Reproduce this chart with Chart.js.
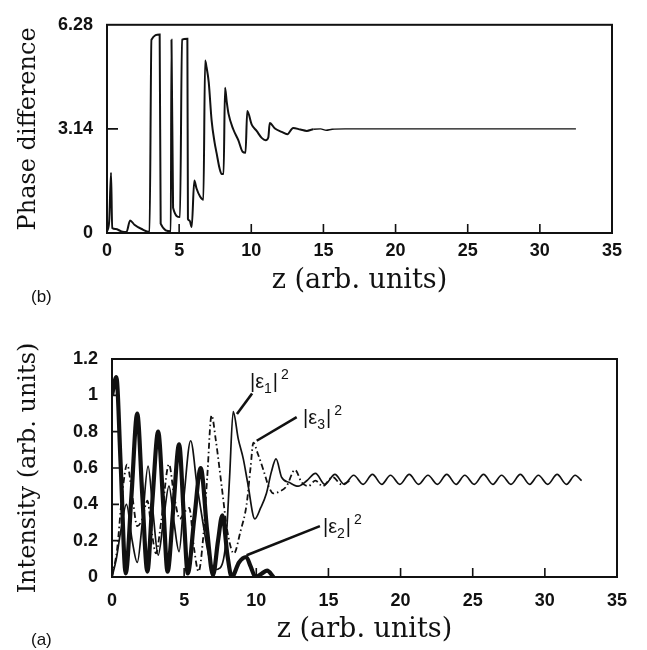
<!DOCTYPE html>
<html>
<head>
<meta charset="utf-8">
<script src="https://cdn.jsdelivr.net/npm/chart.js@4"></script>
<style>
  body { margin: 0; background: #fff; }
  #wrap { position: relative; width: 647px; height: 650px; }
  canvas { position: absolute; left: 0; }
  #phase { top: 0; }
  #inten { top: 310px; }
  .tag { position: absolute; font: 17px "Liberation Sans", Arial, sans-serif; color: #111; }
</style>
</head>
<body>
<div id="wrap">
  <canvas id="phase" width="647" height="310"></canvas>
  <canvas id="inten" width="647" height="340"></canvas>
  <div class="tag" style="left:31px; top:287px;">(b)</div>
  <div class="tag" style="left:31px; top:630px;">(a)</div>
</div>
<script>
// tick values
const xTicks = [0, 5, 10, 15, 20, 25, 30, 35];
const phaseTicks = [0, 3.14, 6.28];
const intensityTicks = [0, 0.2, 0.4, 0.6, 0.8, 1, 1.2];

// (b) phase difference vs z
const phaseZ = [0, 0.15, 0.28, 0.36, 0.6, 1.0, 1.35, 1.6, 1.9, 2.4,
  2.95, 3.08, 3.65, 3.72, 4.42, 4.47, 4.58, 5.06, 5.2, 5.57,
  5.61, 5.72, 5.87, 6.05, 6.2, 6.45, 6.68, 6.8, 6.9, 7.05,
  7.25, 7.45, 7.6, 7.8, 7.95, 8.08, 8.18, 8.3, 8.42, 8.75,
  9.1, 9.4, 9.6, 9.72, 10.03, 10.37, 10.72, 11.0, 11.18, 11.28,
  11.64, 12.1, 12.5, 12.9, 13.4, 13.85, 14.3, 14.8, 15.2, 15.6,
  16.5, 32.5];
const phaseVal = [0.05, 0.35, 1.82, 0.15, 0.12, 0.05, 0.03, 0.38, 0.25, 0.12,
  0.03, 5.83, 5.99, 0.28, 0.05, 5.83, 0.76, 0.48, 5.83, 5.86,
  0.42, 0.38, 0.18, 1.58, 1.35, 1.1, 1.0, 5.2, 5.0, 4.55,
  3.4, 2.75, 2.4, 1.95, 1.78, 1.78, 4.38, 3.95, 3.6, 3.13,
  2.8, 2.45, 2.42, 3.68, 3.27, 3.08, 2.87, 2.8, 2.88, 3.32,
  3.15, 3.05, 2.98, 3.17, 3.12, 3.08, 3.13, 3.14, 3.1, 3.13,
  3.14, 3.14];

// (a) |e1|^2  thin solid
const e1Z = [0, 0.3, 0.6, 1.0, 1.4, 1.75, 2.1, 2.5, 2.85, 3.2,
  3.55, 3.95, 4.3, 4.65, 5.0, 5.45, 5.9, 6.3, 6.7, 7.1,
  7.5, 7.9, 8.15, 8.4, 8.75, 9.1, 9.4, 9.9, 10.3, 10.7,
  11.05, 11.37, 11.75, 12.3, 12.9, 13.5, 14.1, 14.75, 15.45, 16.1,
  16.75, 17.4, 18.05, 18.7, 19.3, 19.95, 20.6, 21.25, 21.9, 22.55,
  23.2, 23.85, 24.45, 25.1, 25.75, 26.4, 27.0, 27.65, 28.3, 28.95,
  29.55, 30.2, 30.85, 31.5, 32.1, 32.55];
const e1Val = [0, 0.1, 0.25, 0.40, 0.2, 0.08, 0.3, 0.61, 0.35, 0.12,
  0.3, 0.5, 0.3, 0.14, 0.45, 0.75, 0.5, 0.3, 0.12, 0.04,
  0.05, 0.2, 0.55, 0.91, 0.76, 0.65, 0.52, 0.32, 0.38, 0.46,
  0.58, 0.65, 0.55, 0.52, 0.5, 0.53, 0.57, 0.51, 0.565, 0.51,
  0.56, 0.51, 0.565, 0.51, 0.56, 0.51, 0.565, 0.51, 0.56, 0.51,
  0.565, 0.51, 0.56, 0.51, 0.565, 0.51, 0.56, 0.51, 0.565, 0.51,
  0.56, 0.51, 0.565, 0.51, 0.56, 0.53];

// |e2|^2  thick solid
const e2Z = [0, 0.3, 0.6, 0.95, 1.35, 1.75, 2.1, 2.45, 2.8, 3.2,
  3.55, 3.85, 4.25, 4.65, 5.0, 5.25, 5.7, 6.15, 6.6, 7.0,
  7.35, 7.65, 8.0, 8.3, 8.8, 9.3, 9.6, 9.95, 10.4, 10.75,
  11.2];
const e2Val = [1.0, 1.1, 0.62, 0.02, 0.45, 0.9, 0.45, 0.03, 0.42, 0.8,
  0.4, 0.03, 0.38, 0.73, 0.3, 0.02, 0.32, 0.6, 0.25, 0.01,
  0.2, 0.34, 0.12, 0.0, 0.08, 0.11, 0.06, 0.0, 0.02, 0.035,
  0.0];

// |e3|^2  dash-dot
const e3Z = [0, 0.35, 0.7, 1.05, 1.4, 1.75, 2.1, 2.45, 2.75, 3.05,
  3.4, 3.95, 4.3, 4.7, 5.05, 5.35, 5.7, 6.0, 6.3, 6.6,
  6.9, 7.2, 7.6, 8.0, 8.45, 8.9, 9.33, 9.6, 9.8, 10.1,
  10.49, 10.85, 11.18, 11.6, 12.1, 12.68, 13.15, 13.6, 14.1, 14.6,
  15.3, 15.9, 16.5];
const e3Val = [0, 0.15, 0.45, 0.62, 0.45, 0.28, 0.32, 0.42, 0.25, 0.13,
  0.3, 0.62, 0.45, 0.32, 0.36, 0.38, 0.15, 0.03, 0.2, 0.55,
  0.89, 0.75, 0.5, 0.25, 0.13, 0.25, 0.4, 0.6, 0.74, 0.68,
  0.59, 0.5, 0.46, 0.47, 0.5, 0.59, 0.52, 0.5, 0.53, 0.5,
  0.55, 0.51, 0.53];

const ink = "#111";
const tickFont = { family: '"Liberation Sans", Arial, sans-serif', size: 18, weight: "bold" };
const serif = '"DejaVu Serif", serif';

const pts = (zs, vs) => zs.map((z, i) => ({ x: z, y: vs[i] }));

// box round the plot plus short inward ticks
const frame = {
  id: "frame",
  afterDatasetsDraw(chart, args, opts) {
    const { ctx, chartArea: a, scales: { x, y } } = chart;
    ctx.save();
    ctx.strokeStyle = ink;
    ctx.lineWidth = 2;
    ctx.strokeRect(a.left, a.top, a.right - a.left, a.bottom - a.top);
    ctx.lineWidth = 1.6;
    ctx.beginPath();
    x.ticks.forEach(t => {
      if (t.value <= x.min || t.value >= x.max) return;
      const px = x.getPixelForValue(t.value);
      ctx.moveTo(px, a.bottom);
      ctx.lineTo(px, a.bottom - opts.xLen);
    });
    y.ticks.forEach(t => {
      if (t.value <= y.min || t.value >= y.max) return;
      const py = y.getPixelForValue(t.value);
      ctx.moveTo(a.left, py);
      ctx.lineTo(a.left + opts.yLen, py);
    });
    ctx.stroke();
    ctx.restore();
  }
};

// |e_n|^2 labels with leader lines
const tags = {
  id: "tags",
  afterDatasetsDraw(chart, args, opts) {
    if (!opts.items) return;
    const { ctx, scales: { x, y } } = chart;
    const big = '20px "Liberation Sans", Arial, sans-serif';
    const small = '14px "Liberation Sans", Arial, sans-serif';
    ctx.save();
    ctx.strokeStyle = ink;
    ctx.fillStyle = ink;
    ctx.lineWidth = 2.6;
    ctx.textBaseline = "alphabetic";
    opts.items.forEach(it => {
      ctx.beginPath();
      ctx.moveTo(x.getPixelForValue(it.from[0]), y.getPixelForValue(it.from[1]));
      ctx.lineTo(x.getPixelForValue(it.to[0]), y.getPixelForValue(it.to[1]));
      ctx.stroke();
      let px = x.getPixelForValue(it.at[0]);
      const py = y.getPixelForValue(it.at[1]);
      ctx.font = big;
      ctx.fillText("|ε", px, py);
      px += ctx.measureText("|ε").width;
      ctx.font = small;
      ctx.fillText(it.sub, px, py + 5);
      px += ctx.measureText(it.sub).width + 1;
      ctx.font = big;
      ctx.fillText("|", px, py);
      px += ctx.measureText("|").width + 3;
      ctx.font = small;
      ctx.fillText("2", px, py - 9);
    });
    ctx.restore();
  }
};

function scales(yMin, yMax, yVals, yTitle, yWidth, xHeight, xTickPad, xTitleBottom) {
  return {
    x: {
      type: "linear", min: 0, max: 35,
      afterBuildTicks: s => { s.ticks = xTicks.map(v => ({ value: v })); },
      afterFit: s => { s.height = xHeight; },
      grid: { display: false, drawTicks: false },
      border: { display: false },
      ticks: { font: tickFont, color: ink, padding: xTickPad, maxRotation: 0, autoSkip: false, callback: v => String(v) },
      title: { display: true, text: "z (arb. units)", color: ink, font: { family: serif, size: 27 },
        padding: { top: 0, bottom: xTitleBottom } }
    },
    y: {
      type: "linear", min: yMin, max: yMax,
      afterBuildTicks: s => { s.ticks = yVals.map(v => ({ value: v })); },
      afterFit: s => { s.width = yWidth; },
      grid: { display: false, drawTicks: false },
      border: { display: false },
      ticks: { font: tickFont, color: ink, padding: 14, autoSkip: false, callback: v => String(v) },
      title: { display: true, text: yTitle, color: ink, font: { family: serif, size: 24 },
        padding: { top: 14, bottom: 0 } }
    }
  };
}

const common = {
  responsive: false,
  maintainAspectRatio: false,
  animation: false,
  plugins: { legend: { display: false }, tooltip: { enabled: false } }
};

new Chart(document.getElementById("phase"), {
  type: "line",
  data: {
    datasets: [{
      data: pts(phaseZ, phaseVal),
      borderColor: ink, borderWidth: 2, pointRadius: 0,
      cubicInterpolationMode: "monotone",
      // the settled tail is drawn with a finer pen in the original
      segment: { borderWidth: c => (c.p0.parsed.x >= 14.3 ? 1.4 : 2) }
    }]
  },
  options: {
    ...common,
    layout: { padding: { left: 0, top: 16, right: 35, bottom: 0 } },
    scales: scales(0, 6.28, phaseTicks, "Phase difference", 107, 77, 7, 13),
    plugins: { ...common.plugins, frame: { xLen: 9, yLen: 11 } }
  },
  plugins: [frame]
});

new Chart(document.getElementById("inten"), {
  type: "line",
  data: {
    datasets: [
      { label: "|e2|^2", data: pts(e2Z, e2Val), borderColor: ink, borderWidth: 4.2, pointRadius: 0,
        cubicInterpolationMode: "monotone" },
      { label: "|e1|^2", data: pts(e1Z, e1Val), borderColor: ink, borderWidth: 1.7, pointRadius: 0,
        cubicInterpolationMode: "monotone" },
      { label: "|e3|^2", data: pts(e3Z, e3Val), borderColor: ink, borderWidth: 1.8, pointRadius: 0,
        borderDash: [6, 3, 1.5, 3], cubicInterpolationMode: "monotone" }
    ]
  },
  options: {
    ...common,
    layout: { padding: { left: 0, top: 49, right: 30, bottom: 0 } },
    scales: scales(0, 1.2, intensityTicks, "Intensity (arb. units)", 112, 73, 13, 4),
    plugins: {
      ...common.plugins,
      frame: { xLen: 9, yLen: 7 },
      tags: {
        items: [
          { sub: "1", at: [9.56, 1.04], from: [9.71, 1.01], to: [8.66, 0.897] },
          { sub: "3", at: [13.24, 0.84], from: [12.8, 0.88], to: [10.03, 0.75] },
          { sub: "2", at: [14.62, 0.24], from: [14.41, 0.28], to: [9.33, 0.12] }
        ]
      }
    }
  },
  plugins: [frame, tags]
});
</script>
</body>
</html>
